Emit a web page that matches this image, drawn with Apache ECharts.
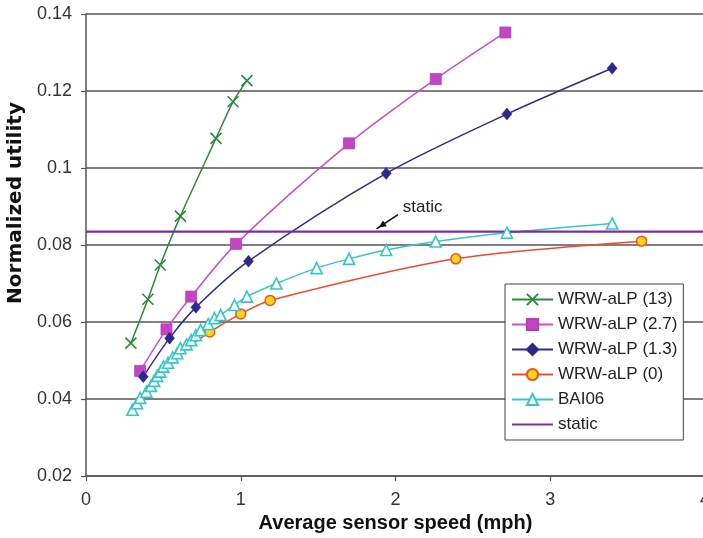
<!DOCTYPE html>
<html>
<head>
<meta charset="utf-8">
<script src="https://cdn.jsdelivr.net/npm/echarts@6/dist/echarts.min.js"></script>
<style>
    html, body { margin: 0; padding: 0; background: #fff; }
    #chart { width: 703px; height: 538px; }
</style>
</head>
<body>
<div id="chart"></div>
<script>
    // values
    var xTicks = [0, 1, 2, 3, 4];
    var yTicks = [0.02, 0.04, 0.06, 0.08, 0.1, 0.12, 0.14];

    var wrw13X = [0.29, 0.40, 0.48, 0.61, 0.84, 0.95, 1.04];
    var wrw13Y = [0.0545, 0.0659, 0.0748, 0.0875, 0.1077, 0.1172, 0.1227];

    var wrw27X = [0.35, 0.52, 0.68, 0.97, 1.70, 2.26, 2.71];
    var wrw27Y = [0.0473, 0.0581, 0.0666, 0.0803, 0.1064, 0.1231, 0.1352];

    var wrw13bX = [0.37, 0.54, 0.71, 1.05, 1.94, 2.72, 3.40];
    var wrw13bY = [0.0458, 0.0558, 0.0638, 0.0758, 0.0986, 0.1140, 0.1259];

    var wrw0X = [0.38, 0.60, 0.80, 1.00, 1.19, 2.39, 3.59];
    var wrw0Y = [0.0425, 0.0515, 0.0574, 0.0621, 0.0656, 0.0764, 0.0810];
    var wrw0Hidden = 2; // first markers sit under the BAI06 triangles

    var baiX = [0.30, 0.33, 0.35, 0.39, 0.42, 0.44, 0.46, 0.48, 0.50, 0.53, 0.56, 0.59, 0.61, 0.65,
                0.68, 0.71, 0.74, 0.79, 0.83, 0.87, 0.96, 1.04, 1.23, 1.49, 1.70, 1.94, 2.26, 2.72, 3.40];
    var baiY = [0.0372, 0.0389, 0.0403, 0.0419, 0.0434, 0.0447, 0.0460, 0.0471, 0.0484, 0.0494, 0.0508, 0.0519, 0.0532, 0.0542,
                0.0553, 0.0566, 0.0579, 0.0595, 0.0610, 0.0618, 0.0644, 0.0666, 0.0700, 0.0740, 0.0764, 0.0787, 0.0809, 0.0832, 0.0856];

    var staticX = [0, 4];
    var staticY = [0.0835, 0.0835];

    // annotation: label position and arrow (data coords)
    var noteText = [2.175, 0.0897];
    var arrowFrom = [2.016, 0.0879];
    var arrowTo = [1.893, 0.0846];

    function zip(xs, ys) {
        return xs.map(function (x, i) { return [x, ys[i]]; });
    }

    var FONT = '"Liberation Sans", Arial, Helvetica, sans-serif';
    var crossPath = 'path://M0,0L10,10M10,0L0,10';

    var chart = echarts.init(document.getElementById('chart'));
    chart.setOption({
        animation: false,
        backgroundColor: '#fff',
        textStyle: { fontFamily: FONT },
        grid: { left: 86, top: 14, right: -2, bottom: 62, outerBoundsMode: 'none', containLabel: false },
        legend: {
            orient: 'vertical',
            left: 505,
            top: 284,
            padding: [7, 6, 7, 6],
            itemWidth: 41,
            itemHeight: 14,
            itemGap: 8,
            backgroundColor: '#fff',
            borderColor: '#444',
            borderWidth: 1,
            borderRadius: 0,
            textStyle: { fontFamily: FONT, fontSize: 17, color: '#222' },
            data: ['WRW-aLP (13)', 'WRW-aLP (2.7)', 'WRW-aLP (1.3)', 'WRW-aLP (0)', 'BAI06',
                   { name: 'static', itemStyle: { opacity: 0 } }]
        },
        xAxis: {
            type: 'value',
            min: 0,
            max: 4,
            interval: 1,
            name: 'Average sensor speed (mph)',
            nameLocation: 'middle',
            nameGap: 37,
            nameTextStyle: { fontFamily: FONT, fontSize: 20, fontWeight: 'bold', color: '#111' },
            axisLine: { lineStyle: { color: '#555', width: 1.5 } },
            axisTick: { show: true, length: 5, inside: false, lineStyle: { color: '#555', width: 1.2 } },
            axisLabel: { fontSize: 18, color: '#333', margin: 15, showMaxLabel: true },
            splitLine: { show: false }
        },
        yAxis: {
            type: 'value',
            min: 0.02,
            max: 0.14,
            interval: 0.02,
            name: 'Normalized utility',
            nameLocation: 'middle',
            nameGap: 60,
            nameRotate: 90,
            nameTextStyle: {
                fontFamily: '"DejaVu Sans", ' + FONT, fontSize: 20, fontWeight: 'bold', color: '#111',
                padding: [0, 0, 0, 84]
            },
            axisLine: { lineStyle: { color: '#555', width: 1.5 } },
            axisTick: { show: true, length: 5, inside: false, lineStyle: { color: '#555', width: 1.2 } },
            axisLabel: {
                fontSize: 18, color: '#333', margin: 14,
                formatter: function (v) { return String(+v.toFixed(2)); }
            },
            splitLine: { show: true, lineStyle: { color: '#555', width: 1.5 } }
        },
        series: [
            {
                name: 'WRW-aLP (13)',
                type: 'line',
                smooth: 0.3,
                data: zip(wrw13X, wrw13Y),
                symbol: crossPath,
                symbolSize: 11,
                lineStyle: { color: '#2a8a3c', width: 1.5 },
                itemStyle: { color: '#2a8a3c', borderColor: '#2a8a3c', borderWidth: 1.6 }
            },
            {
                name: 'WRW-aLP (2.7)',
                type: 'line',
                smooth: 0.3,
                data: zip(wrw27X, wrw27Y),
                symbol: 'rect',
                symbolSize: 11,
                lineStyle: { color: '#cc4ccc', width: 1.5 },
                itemStyle: { color: '#c445c4', borderColor: '#b83cb8', borderWidth: 0.8 }
            },
            {
                name: 'WRW-aLP (1.3)',
                type: 'line',
                smooth: 0.3,
                data: zip(wrw13bX, wrw13bY),
                symbol: 'diamond',
                symbolSize: [10, 12],
                lineStyle: { color: '#2f2c8e', width: 1.5 },
                itemStyle: { color: '#2b2a8c', borderColor: '#2b2a8c', borderWidth: 0.5 }
            },
            {
                name: 'WRW-aLP (0)',
                type: 'line',
                smooth: 0.3,
                data: zip(wrw0X, wrw0Y).map(function (p, i) {
                    return i < wrw0Hidden ? { value: p, symbol: 'none' } : p;
                }),
                symbol: 'circle',
                symbolSize: 10,
                lineStyle: { color: '#ef4a2c', width: 1.5 },
                itemStyle: { color: '#ffd21f', borderColor: '#e8561c', borderWidth: 1.5 }
            },
            {
                name: 'BAI06',
                type: 'line',
                smooth: 0.3,
                data: zip(baiX, baiY),
                symbol: 'triangle',
                symbolSize: 11,
                lineStyle: { color: '#35c6c6', width: 1.5 },
                itemStyle: { color: '#ffffff', borderColor: '#35c6c6', borderWidth: 1.6 }
            },
            {
                name: 'static',
                type: 'line',
                data: zip(staticX, staticY),
                symbol: 'none',
                lineStyle: { color: '#7a2ea0', width: 2.2 },
                itemStyle: { color: '#7a2ea0' }
            }
        ]
    });

    // "static" annotation with an arrow, positioned through the axes
    var t = chart.convertToPixel({ gridIndex: 0 }, noteText);
    var a0 = chart.convertToPixel({ gridIndex: 0 }, arrowFrom);
    var a1 = chart.convertToPixel({ gridIndex: 0 }, arrowTo);
    var ang = Math.atan2(a1[1] - a0[1], a1[0] - a0[0]);
    var head = 8, spread = 0.45;
    var h1 = [a1[0] - head * Math.cos(ang - spread), a1[1] - head * Math.sin(ang - spread)];
    var h2 = [a1[0] - head * Math.cos(ang + spread), a1[1] - head * Math.sin(ang + spread)];

    chart.setOption({
        graphic: [
            {
                type: 'text',
                x: t[0], y: t[1],
                style: { text: 'static', fontFamily: FONT, fontSize: 17, fill: '#222', align: 'center', verticalAlign: 'middle' },
                z: 100
            },
            {
                type: 'line',
                shape: { x1: a0[0], y1: a0[1], x2: a1[0] + 3 * Math.cos(ang), y2: a1[1] + 3 * Math.sin(ang) },
                style: { stroke: '#111', lineWidth: 1.6 },
                z: 100
            },
            {
                type: 'polygon',
                shape: { points: [a1, h1, h2] },
                style: { fill: '#111' },
                z: 100
            }
        ]
    });
</script>
</body>
</html>
